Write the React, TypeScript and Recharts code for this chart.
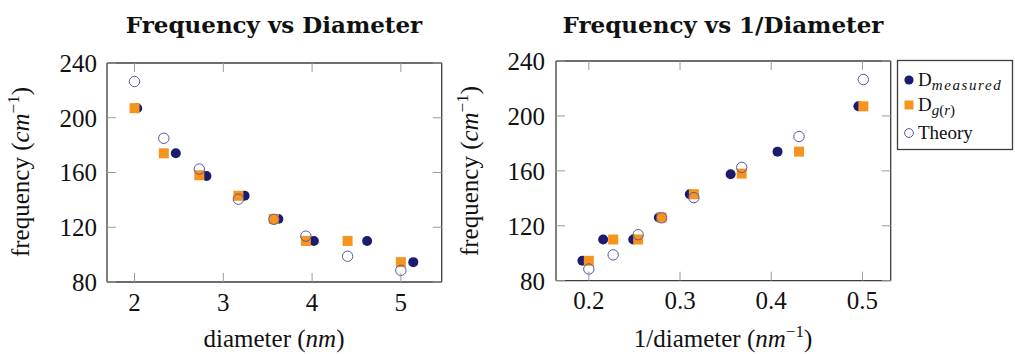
import { ScatterChart, Scatter, XAxis, YAxis } from "recharts";

// values
const diameterMeasured = [2.03, 2.465, 2.81, 3.24, 3.62, 4.02, 4.62, 5.14];
const diameterGr = [2.0, 2.33, 2.73, 3.17, 3.57, 3.93, 4.4, 5.0];
const inverseMeasured = [0.4956, 0.4069, 0.3555, 0.3107, 0.2768, 0.2487, 0.2157, 0.193];
const inverseGr = [0.501, 0.4305, 0.3676, 0.3152, 0.2798, 0.2541, 0.2267, 0.2];

const freqMeasured = [207, 174, 157.5, 143, 126, 110, 110, 94.5];
const freqGr = [207, 174, 158, 143, 126, 110, 110, 94.5];
const freqTheory = [226.5, 185, 162.5, 140.5, 125.8, 113.5, 98.8, 88.5];

const freqTicks = [80, 120, 160, 200, 240];
const diameterTicks = [2, 3, 4, 5];
const inverseTicks = [0.2, 0.3, 0.4, 0.5];

const NAVY = "#1b1b6f";
const ORANGE = "#f7941d";
const THEORY = "#5757a8";
const FRAME = "#3c3c3c";
const TICK = "#9a9a9a";
const SERIF = "'Liberation Serif', serif";
const TICK_LEN = 9;

const zip = (xs: number[], ys: number[]) => xs.map((x, i) => ({ x, y: ys[i] }));

const FilledDot = (props: any) => <circle cx={props.cx} cy={props.cy} r={5} fill={NAVY} />;
const Square = (props: any) => (
  <rect x={props.cx - 5} y={props.cy - 5} width={10} height={10} fill={ORANGE} />
);
const OpenDot = (props: any) => (
  <circle cx={props.cx} cy={props.cy} r={5.2} fill="none" stroke={THEORY} strokeWidth={1} />
);

const frameLine = { stroke: FRAME, strokeWidth: 1.3 };

// ticks point into the plot on both sides (pgfplots style); labels drawn with them
const bottomTick = (gap: number, plotH: number) => (props: any) => {
  const { x, y, payload } = props;
  const axisY = y - gap;
  const topY = axisY - plotH;
  return (
    <g>
      <line x1={x} x2={x} y1={axisY} y2={axisY - TICK_LEN} stroke={TICK} />
      <line x1={x} x2={x} y1={topY} y2={topY + TICK_LEN} stroke={TICK} />
      <text x={x} y={y} dy="0.71em" textAnchor="middle" fontFamily={SERIF} fontSize={25} fill="#111">
        {payload.value}
      </text>
    </g>
  );
};

const leftTick = (gap: number, plotW: number) => (props: any) => {
  const { x, y, payload } = props;
  const axisX = x + gap;
  const rightX = axisX + plotW;
  return (
    <g>
      <line x1={axisX} x2={axisX + TICK_LEN} y1={y} y2={y} stroke={TICK} />
      <line x1={rightX} x2={rightX - TICK_LEN} y1={y} y2={y} stroke={TICK} />
      <text x={x} y={y} dy="0.355em" textAnchor="end" fontFamily={SERIF} fontSize={25} fill="#111">
        {payload.value}
      </text>
    </g>
  );
};

type PanelProps = {
  left: number;
  width: number;
  plotLeft: number;
  plotRight: number;
  plotTop: number;
  plotBottom: number;
  xDomain: [number, number];
  xTicks: number[];
  yGap: number;
  xs: { measured: number[]; gr: number[] };
};

function Panel(p: PanelProps) {
  const measured = zip(p.xs.measured, freqMeasured);
  const gr = zip(p.xs.gr, freqGr);
  const theory = zip(p.xs.gr, freqTheory);
  const plotW = p.plotRight - p.plotLeft;
  const plotH = p.plotBottom - p.plotTop;
  return (
    <div style={{ position: "absolute", left: p.left, top: 0 }}>
      <ScatterChart
        width={p.width}
        height={354}
        margin={{
          top: p.plotTop - 1,
          right: p.width - p.plotRight - 1,
          bottom: 354 - p.plotBottom - 40,
          left: 0,
        }}
      >
        <XAxis
          xAxisId="b"
          type="number"
          dataKey="x"
          domain={p.xDomain}
          ticks={p.xTicks}
          allowDataOverflow
          interval={0}
          height={40}
          tickSize={0}
          tickMargin={11}
          tick={bottomTick(11, plotH)}
          axisLine={frameLine}
          tickLine={false}
        />
        <XAxis
          xAxisId="t"
          orientation="top"
          type="number"
          dataKey="x"
          domain={p.xDomain}
          allowDataOverflow
          height={1}
          tick={false}
          tickLine={false}
          axisLine={frameLine}
        />
        <YAxis
          yAxisId="l"
          type="number"
          dataKey="y"
          domain={[80, 240]}
          ticks={freqTicks}
          allowDataOverflow
          interval={0}
          width={p.plotLeft}
          tickSize={0}
          tickMargin={p.yGap}
          tick={leftTick(p.yGap, plotW)}
          axisLine={frameLine}
          tickLine={false}
        />
        <YAxis
          yAxisId="r"
          orientation="right"
          type="number"
          dataKey="y"
          domain={[80, 240]}
          allowDataOverflow
          width={1}
          tick={false}
          tickLine={false}
          axisLine={frameLine}
        />
        <Scatter xAxisId="b" yAxisId="l" data={measured} shape={FilledDot} isAnimationActive={false} />
        <Scatter xAxisId="b" yAxisId="l" data={gr} shape={Square} isAnimationActive={false} />
        <Scatter xAxisId="b" yAxisId="l" data={theory} shape={OpenDot} isAnimationActive={false} />
      </ScatterChart>
    </div>
  );
}

function YLabel({ x, y }: { x: number; y: number }) {
  return (
    <text
      x={x}
      y={y}
      transform={`rotate(-90 ${x} ${y})`}
      textAnchor="middle"
      fontFamily={SERIF}
      fontSize={25}
      fill="#111"
    >
      frequency (<tspan fontStyle="italic">cm</tspan>
      <tspan fontSize={17} dy={-10}>−1</tspan>
      <tspan dy={10}>)</tspan>
    </text>
  );
}

export default function App() {
  return (
    <div style={{ position: "absolute", left: 0, top: 0, width: 1015, height: 354, background: "#fff" }}>
      <Panel
        left={0}
        width={460}
        plotLeft={107}
        plotRight={441.7}
        plotTop={63}
        plotBottom={282}
        xDomain={[1.69, 5.46]}
        xTicks={diameterTicks}
        yGap={10}
        xs={{ measured: diameterMeasured, gr: diameterGr }}
      />
      <Panel
        left={460}
        width={555}
        plotLeft={96}
        plotRight={430.7}
        plotTop={61}
        plotBottom={280.7}
        xDomain={[0.164, 0.531]}
        xTicks={inverseTicks}
        yGap={11}
        xs={{ measured: inverseMeasured, gr: inverseGr }}
      />
      <svg
        width={1015}
        height={354}
        style={{ position: "absolute", left: 0, top: 0, pointerEvents: "none" }}
      >
        <text x={274} y={33} textAnchor="middle" fontFamily="'DejaVu Serif', serif" fontWeight="bold" fontSize={23} fill="#111">
          Frequency vs Diameter
        </text>
        <text x={723} y={33} textAnchor="middle" fontFamily="'DejaVu Serif', serif" fontWeight="bold" fontSize={23} fill="#111">
          Frequency vs 1/Diameter
        </text>
        <YLabel x={29} y={172} />
        <YLabel x={478} y={171} />
        <text x={274} y={347} textAnchor="middle" fontFamily={SERIF} fontSize={25} fill="#111">
          diameter (<tspan fontStyle="italic">nm</tspan>)
        </text>
        <text x={723} y={347} textAnchor="middle" fontFamily={SERIF} fontSize={25} fill="#111">
          1/diameter (<tspan fontStyle="italic">nm</tspan>
          <tspan fontSize={17} dy={-10}>−1</tspan>
          <tspan dy={10}>)</tspan>
        </text>

        <rect x={897.5} y={60.5} width={115} height={89} fill="#fff" stroke={FRAME} strokeWidth={1.3} />
        <circle cx={909} cy={80} r={4.6} fill={NAVY} />
        <text x={918} y={86} fontFamily={SERIF} fontSize={19} fill="#111">
          D<tspan fontStyle="italic" fontSize={15} dy={4} letterSpacing={1.6}>measured</tspan>
        </text>
        <rect x={904.5} y={100.5} width={9} height={9} fill={ORANGE} />
        <text x={918} y={111} fontFamily={SERIF} fontSize={19} fill="#111">
          D<tspan fontSize={15} dy={4}>
            <tspan fontStyle="italic">g</tspan>(<tspan fontStyle="italic">r</tspan>)
          </tspan>
        </text>
        <circle cx={909} cy={133} r={4.4} fill="none" stroke={THEORY} strokeWidth={1} />
        <text x={918} y={139} fontFamily={SERIF} fontSize={19} fill="#111">
          Theory
        </text>
      </svg>
    </div>
  );
}
